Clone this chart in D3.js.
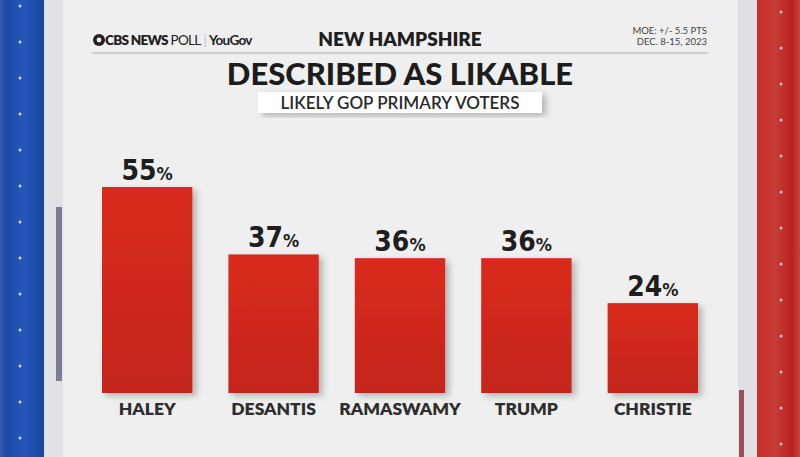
<!DOCTYPE html>
<html>
<head>
<meta charset="utf-8">
<script src="https://cdn.jsdelivr.net/npm/d3@7"></script>
<style>
	body { margin: 0; background: #ececec; }
	svg { display: block; }
</style>
</head>
<body>
<svg id="chart"></svg>
<script>
// Values
const candidates = ['HALEY', 'DESANTIS', 'RAMASWAMY', 'TRUMP', 'CHRISTIE'];
const likable = [55, 37, 36, 36, 24];

const width = 800;
const height = 457;

const svg = d3.select('#chart').attr('width', width).attr('height', height);

const defs = svg.append('defs');

// blue / red side bands
const blueGrad = defs.append('linearGradient').attr('id', 'blueBand');
blueGrad.append('stop').attr('offset', '0%').attr('stop-color', '#3558a8');
blueGrad.append('stop').attr('offset', '15%').attr('stop-color', '#1b4aa8');
blueGrad.append('stop').attr('offset', '55%').attr('stop-color', '#2556b8');
blueGrad.append('stop').attr('offset', '100%').attr('stop-color', '#1a469e');

const redGrad = defs.append('linearGradient').attr('id', 'redBand');
redGrad.append('stop').attr('offset', '0%').attr('stop-color', '#c9302c');
redGrad.append('stop').attr('offset', '45%').attr('stop-color', '#c63a34');
redGrad.append('stop').attr('offset', '80%').attr('stop-color', '#b8231e');
redGrad.append('stop').attr('offset', '100%').attr('stop-color', '#c8433c');

const barGrad = defs.append('linearGradient').attr('id', 'barFill')
	.attr('x1', 0).attr('y1', 0).attr('x2', 0).attr('y2', 1);
barGrad.append('stop').attr('offset', '0%').attr('stop-color', '#d92b1f');
barGrad.append('stop').attr('offset', '100%').attr('stop-color', '#c4251b');

const shadow = defs.append('filter').attr('id', 'shadow')
	.attr('x', '-20%').attr('y', '-20%').attr('width', '150%').attr('height', '140%');
shadow.append('feDropShadow').attr('dx', 4).attr('dy', 3)
	.attr('stdDeviation', 3).attr('flood-color', '#000').attr('flood-opacity', 0.25);

// background panel and frame
svg.append('rect').attr('width', width).attr('height', height).attr('fill', '#efefef');
svg.append('rect').attr('x', 43).attr('width', 20).attr('height', height).attr('fill', '#e2e2e4');
svg.append('rect').attr('x', 56).attr('y', 207).attr('width', 6).attr('height', 174).attr('fill', '#7c7c96');
svg.append('rect').attr('x', 738).attr('width', 20).attr('height', height).attr('fill', '#e0dfe1');
svg.append('rect').attr('x', 739).attr('y', 390).attr('width', 5).attr('height', 67).attr('fill', '#9a5060');
svg.append('rect').attr('x', 0).attr('width', 44).attr('height', height).attr('fill', 'url(#blueBand)');
svg.append('rect').attr('x', 757).attr('width', 43).attr('height', height).attr('fill', 'url(#redBand)');

// small studs on the bands
const studs = d3.range(13);
svg.append('g').selectAll('circle').data(studs).join('circle')
	.attr('cx', 20).attr('cy', (d) => 6 + d * 36).attr('r', 1.5).attr('fill', '#c8d6f2');
svg.append('g').selectAll('circle').data(studs).join('circle')
	.attr('cx', 781).attr('cy', (d) => 12 + d * 36).attr('r', 1.5).attr('fill', '#f2c4c0');

// header
const header = svg.append('g').attr('font-family', 'Lato, "Open Sans", sans-serif');
header.append('circle').attr('cx', 99).attr('cy', 40).attr('r', 6).attr('fill', '#222');
header.append('circle').attr('cx', 99).attr('cy', 40).attr('r', 2.4).attr('fill', '#efefef');
header.append('text').attr('x', 105).attr('y', 45).attr('font-size', 13.5).attr('fill', '#222')
	.attr('letter-spacing', -0.7)
	.html('<tspan font-weight="800">CBS NEWS</tspan><tspan font-weight="400"> POLL</tspan><tspan fill="#999" font-weight="300"> | </tspan><tspan font-weight="700">YouGov</tspan>');
header.append('text').attr('x', 400).attr('y', 46).attr('text-anchor', 'middle')
	.attr('font-size', 19).attr('font-weight', 800).attr('fill', '#1e1e1e').text('NEW HAMPSHIRE');
header.append('text').attr('x', 707).attr('y', 34).attr('text-anchor', 'end')
	.attr('font-size', 9.5).attr('fill', '#444').text('MOE: +/- 5.5 PTS');
header.append('text').attr('x', 707).attr('y', 45).attr('text-anchor', 'end')
	.attr('font-size', 9.5).attr('fill', '#444').text('DEC. 8-15, 2023');
header.append('line').attr('x1', 92).attr('x2', 708).attr('y1', 53).attr('y2', 53)
	.attr('stroke', '#c4c4c4').attr('stroke-width', 1.5);

header.append('text').attr('x', 400).attr('y', 85).attr('text-anchor', 'middle')
	.attr('font-size', 31).attr('font-weight', 900).attr('fill', '#1c1c1c').text('DESCRIBED AS LIKABLE');
header.append('rect').attr('x', 258).attr('y', 92).attr('width', 284).attr('height', 21)
	.attr('fill', '#ffffff').attr('filter', 'url(#shadow)');
header.append('text').attr('x', 400).attr('y', 108.5).attr('text-anchor', 'middle')
	.attr('font-size', 17).attr('font-weight', 600).attr('fill', '#2a2a2a').text('LIKELY GOP PRIMARY VOTERS');

// bars
const data = candidates.map((c, i) => ({ name: c, value: likable[i] }));

const margin = { left: 102, right: 102, bottom: 393 };
const x = d3.scaleBand().domain(candidates).range([margin.left, width - margin.right]).paddingInner(0.285);
const y = d3.scaleLinear().domain([0, 55]).range([margin.bottom, 187]);

const chart = svg.append('g');

chart.selectAll('.bar').data(data).join('rect')
	.attr('class', 'bar')
	.attr('x', (d) => x(d.name))
	.attr('y', (d) => y(d.value))
	.attr('width', x.bandwidth())
	.attr('height', (d) => y(0) - y(d.value))
	.attr('fill', 'url(#barFill)')
	.attr('filter', 'url(#shadow)');

const labels = chart.selectAll('.val').data(data).join('text')
	.attr('class', 'val')
	.attr('x', (d) => x(d.name) + x.bandwidth() / 2)
	.attr('y', (d) => y(d.value) - 7)
	.attr('text-anchor', 'middle')
	.attr('font-family', '"Liberation Sans Narrow", "DejaVu Sans Condensed", sans-serif')
	.attr('font-weight', 700)
	.attr('fill', '#1e1e1e');
labels.append('tspan').attr('font-size', 28).text((d) => d.value);
labels.append('tspan').attr('font-size', 18).text('%');

// category axis
const xAxis = d3.axisBottom(x).tickSize(0).tickPadding(0);
const xAxisG = chart.append('g').attr('transform', `translate(0,${margin.bottom + 10})`).call(xAxis);
xAxisG.select('.domain').remove();
xAxisG.selectAll('text')
	.attr('dy', '0.71em')
	.attr('font-family', 'Lato, "Open Sans", sans-serif')
	.attr('font-size', 17.5)
	.attr('font-weight', 800)
	.attr('fill', '#2e2e2e');
</script>
</body>
</html>
